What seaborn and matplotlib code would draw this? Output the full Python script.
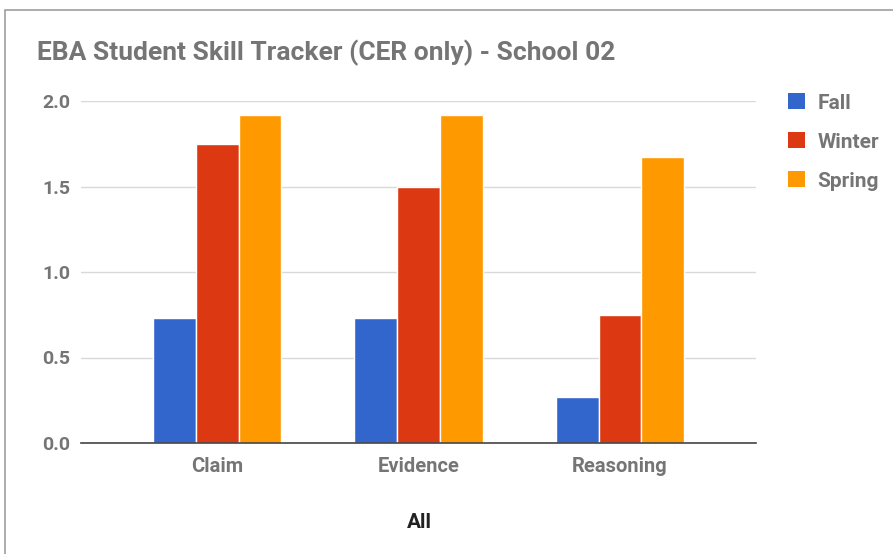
import pandas as pd
import matplotlib.pyplot as plt
import seaborn as sns
from matplotlib.patches import Patch, Rectangle

# Data
skills = ["Claim", "Evidence", "Reasoning"]
terms = ["Fall", "Winter", "Spring"]
fall = [0.73, 0.73, 0.27]
winter = [1.75, 1.50, 0.75]
spring = [1.92, 1.92, 1.67]
colors = ["#3366cc", "#dc3912", "#ff9900"]

TEXT_GRAY = "#757575"

df = pd.DataFrame({
    "Skill": skills * 3,
    "Term": [t for t in terms for _ in skills],
    "Score": fall + winter + spring,
})

sns.set_theme(style="white")
plt.rcParams["font.family"] = ["Roboto", "DejaVu Sans"]

fig = plt.figure(figsize=(8.93, 5.54), dpi=100)
ax = fig.add_axes([81 / 893, 1 - 443 / 554, (756 - 81) / 893, (443 - 101) / 554])

sns.barplot(data=df, x="Skill", y="Score", hue="Term", order=skills,
            hue_order=terms, palette=colors, width=0.64, saturation=1,
            edgecolor="white", linewidth=1, legend=False, ax=ax, zorder=3)

ax.set_xlim(-0.675, 2.675)
ax.set_ylim(0, 2.0)
ax.set_yticks([0.0, 0.5, 1.0, 1.5, 2.0])
ax.set_yticklabels([f"{v:.1f}" for v in [0.0, 0.5, 1.0, 1.5, 2.0]])
ax.yaxis.grid(True, color="#d9d9d9", linewidth=1)
ax.set_axisbelow(True)
for side in ["top", "right", "left"]:
    ax.spines[side].set_visible(False)
ax.spines["bottom"].set_color("#444444")
ax.spines["bottom"].set_linewidth(1.2)
ax.spines["bottom"].set_zorder(4)
ax.tick_params(axis="y", length=0, pad=8, labelsize=14, labelcolor=TEXT_GRAY)
ax.tick_params(axis="x", length=0, pad=10, labelsize=14.5, labelcolor=TEXT_GRAY)
for lbl in ax.get_xticklabels() + ax.get_yticklabels():
    lbl.set_fontweight("bold")
ax.set_xlabel("")
ax.set_ylabel("")

fig.text(37 / 893, 1 - 53 / 554, "EBA Student Skill Tracker (CER only) - School 02",
         fontsize=19, fontweight="bold", color=TEXT_GRAY, va="center", ha="left")
fig.text(419 / 893, 1 - 522 / 554, "All", fontsize=15, fontweight="bold",
         color="#222222", va="center", ha="center")

handles = [Patch(facecolor=c, edgecolor="none") for c in colors]
leg = fig.legend(handles, terms, loc="upper left", bbox_to_anchor=(780 / 893, 1 - 85 / 554),
                 frameon=False, fontsize=15, handlelength=0.8, handleheight=0.8,
                 handletextpad=0.6, labelspacing=0.95, borderaxespad=0)
for t in leg.get_texts():
    t.set_color(TEXT_GRAY)
    t.set_fontweight("bold")

# outer chart frame
fig.patches.append(Rectangle((5 / 893, -0.1), 1.2, 1 - 10 / 554 + 0.1,
                             transform=fig.transFigure, fill=False,
                             edgecolor="#9e9e9e", linewidth=1.2))

fig.savefig("out.png", dpi=100)
